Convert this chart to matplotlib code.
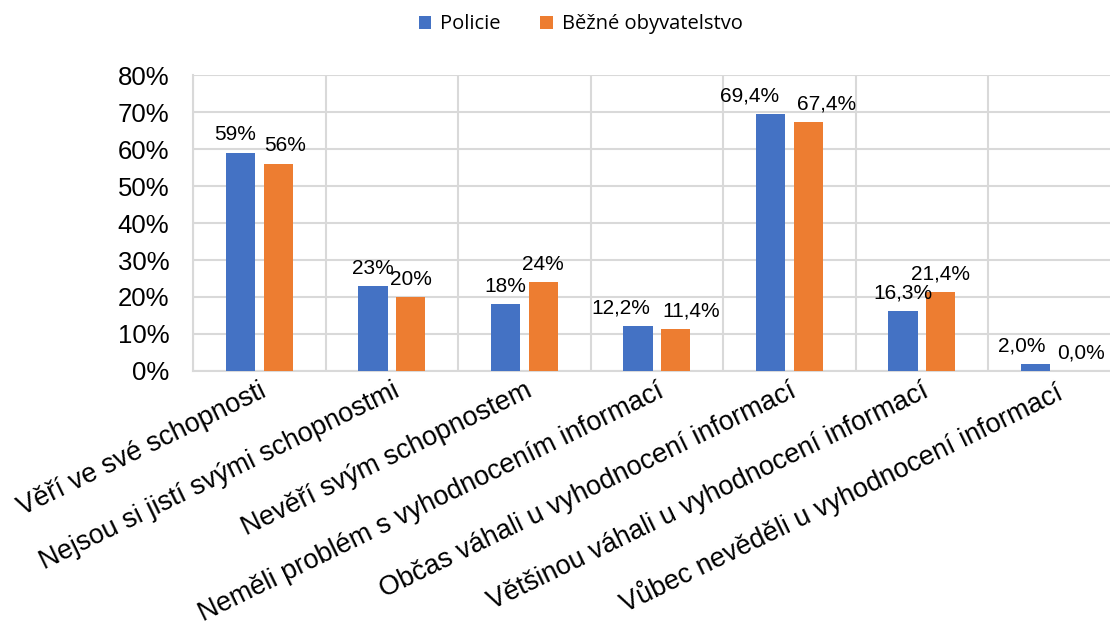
import numpy as np
import matplotlib.pyplot as plt

categories = ["Věří ve své schopnosti", "Nejsou si jistí svými schopnostmi",
              "Nevěří svým schopnostem", "Neměli problém s vyhodnocením informací",
              "Občas váhali u vyhodnocení informací", "Většinou váhali u vyhodnocení informací",
              "Vůbec nevěděli u vyhodnocení informací"]
policie = [59, 23, 18, 12.2, 69.4, 16.3, 2.0]
obyvatelstvo = [56, 20, 24, 11.4, 67.4, 21.4, 0.0]
policie_labels = ["59%", "23%", "18%", "12,2%", "69,4%", "16,3%", "2,0%"]
obyvatelstvo_labels = ["56%", "20%", "24%", "11,4%", "67,4%", "21,4%", "0,0%"]
y_ticks = [0, 10, 20, 30, 40, 50, 60, 70, 80]

# sideways nudges (points) where the labels would collide
policie_nudge = [-4, 0, 0, -12, -15, 0, -10]
obyv_nudge = [5, 0, 0, 11, 13, 0, 6]

blue = "#4472C4"
orange = "#ED7D31"
grid = "#D9D9D9"

plt.rcParams['font.family'] = ['Liberation Sans', 'DejaVu Sans']

fig = plt.figure(figsize=(11.1, 6.23), dpi=100)
ax = fig.add_axes([0.1739, 0.4045, 0.8356, 0.4751])

x = np.arange(len(categories))
w = 0.22
off = 0.142
b1 = ax.bar(x - off, policie, w, color=blue, label="Policie", zorder=3)
b2 = ax.bar(x + off, obyvatelstvo, w, color=orange, label="Běžné obyvatelstvo", zorder=3)

for i in range(len(x)):
    ax.annotate(policie_labels[i], (x[i] - off, policie[i]), xytext=(policie_nudge[i], 6),
                textcoords="offset points", ha="center", va="bottom", fontsize=15)
    ax.annotate(obyvatelstvo_labels[i], (x[i] + off, obyvatelstvo[i]), xytext=(obyv_nudge[i], 6),
                textcoords="offset points", ha="center", va="bottom", fontsize=15)

ax.set_xlim(-0.5, len(categories) - 0.5)
ax.set_ylim(0, 80)
ax.set_yticks(y_ticks)
ax.set_yticklabels([f"{t}%" for t in y_ticks], fontsize=18.5)
ax.set_xticks(x)
ax.set_xticklabels(categories, rotation=26, ha="right", rotation_mode="anchor", fontsize=19.5)
ax.set_xticks(np.arange(-0.5, len(categories), 1), minor=True)
ax.tick_params(axis="both", which="both", length=0)
ax.tick_params(axis="x", which="major", pad=5)
ax.tick_params(axis="y", pad=17)
ax.grid(axis="y", color=grid, linewidth=1.5, zorder=0)
ax.grid(axis="x", which="minor", color=grid, linewidth=1.5, zorder=0)
for s in ["top", "right"]:
    ax.spines[s].set_visible(False)
for s in ["left", "bottom"]:
    ax.spines[s].set_color(grid)
    ax.spines[s].set_linewidth(1.5)

fig.legend(handles=[b1, b2], loc="upper center", bbox_to_anchor=(0.523, 1.006), ncol=2,
           frameon=False, handlelength=0.6, handleheight=0.6, handletextpad=0.45,
           columnspacing=2.0, prop={"family": ["Open Sans", "DejaVu Sans"], "size": 14.5})

fig.savefig("out.png", dpi=100)
